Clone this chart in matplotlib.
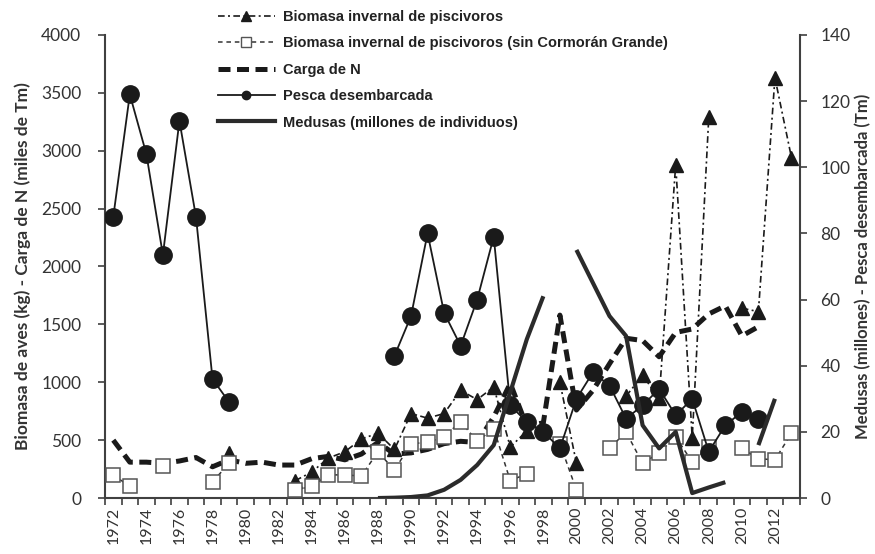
import numpy as np
import matplotlib
matplotlib.use("Agg")
import matplotlib.pyplot as plt
from matplotlib.lines import Line2D

nan = np.nan
years = np.arange(1972, 2014)

# Biomasa invernal de piscívoros (kg)
biomasa = [nan, nan, nan, nan, nan, nan, nan, 390, nan, nan,
           nan, 150, 225, 345, 400, 510, 560, 420, 730, 690,
           730, 930, 850, 960, 440, 580, nan, 1000, 300, nan,
           nan, 880, 1060, 860, 2880, 520, 3290, nan, 1640, 1610,
           3630, 2940]

# Biomasa invernal de piscívoros sin Cormorán Grande (kg)
biomasa_sin_cg = [200, 100, nan, 275, nan, nan, 140, 300, nan, nan,
                  nan, 70, 100, 200, 200, 190, 400, 240, 470, 480,
                  530, 660, 490, 600, 150, 210, nan, 470, 70, nan,
                  430, 570, 300, 390, 530, 310, 440, nan, 430, 340,
                  330, 560]

# Carga de N (miles de Tm)
carga_n = [500, 310, 310, 300, 320, 350, 270, 330, 300, 310,
           285, 285, 340, 360, 330, 380, 480, 380, 390, 420,
           470, 490, 480, 700, 990, 620, 650, 1580, 760, 930,
           1160, 1380, 1360, 1220, 1430, 1460, 1590, 1660, 1400, 1480,
           nan, nan]

# Pesca desembarcada (Tm)
pesca = [85, 122, 104, 73.5, 114, 85, 36, 29, nan, nan,
         nan, nan, nan, nan, nan, nan, nan, 43, 55, 80,
         56, 46, 60, 79, 28, 23, 20, 15, 30, 38,
         34, 24, 28, 33, 25, 30, 14, 22, 26, 24,
         nan, nan]

# Medusas (millones de individuos)
medusas = [nan, nan, nan, nan, nan, nan, nan, nan, nan, nan,
           nan, nan, nan, nan, nan, nan, 0, 0.1, 0.3, 0.8,
           2.5, 5.5, 10, 16, 32, 48, 61, nan, 75, 65,
           55, 49, 22, 15, 20, 1.5, 3.2, 4.8, nan, 16,
           30, nan]

left_ticks = np.arange(0, 4001, 500)
right_ticks = np.arange(0, 141, 20)
year_labels = np.arange(1972, 2013, 2)

labels = ["Biomasa invernal de piscivoros",
          "Biomasa invernal de piscivoros (sin Cormorán Grande)",
          "Carga de N",
          "Pesca desembarcada",
          "Medusas (millones de individuos)"]

ink = "#1a1a1a"
axis_col = "#404040"
text_col = "#333333"
tick_font = "Lato"

fig = plt.figure(figsize=(8.75, 5.54), dpi=100)
ax = fig.add_axes([0.12, 0.101, 0.794, 0.836])
ax2 = ax.twinx()

# left axis series
l_bio, = ax.plot(years, biomasa, color=ink, lw=1.2, dashes=(4, 2, 1.2, 2),
                 marker="^", ms=10, mfc=ink, mec=ink, zorder=3)
l_sin, = ax.plot(years, biomasa_sin_cg, color="#333333", lw=1.1, dashes=(3, 2.5),
                 marker="s", ms=10.5, mfc="white", mec="#555555", mew=1.1, zorder=3)
l_n, = ax.plot(years, carga_n, color=ink, lw=3.6, dashes=(2.4, 1.3),
               solid_capstyle="butt", dash_capstyle="butt", zorder=2)

# right axis series
l_pes, = ax2.plot(years, pesca, color=ink, lw=1.3, marker="o", ms=12.5,
                  mfc=ink, mec=ink, zorder=3)
l_med, = ax2.plot(years, medusas, color="#2b2b2b", lw=3.0,
                  solid_capstyle="butt", zorder=4)

ax.set_xlim(1971.5, 2013.5)
ax.set_ylim(0, 4000)
ax2.set_ylim(0, 140)

for a in (ax, ax2):
    a.spines["top"].set_visible(False)
    for s in ("left", "right", "bottom"):
        a.spines[s].set_color(axis_col)
        a.spines[s].set_linewidth(1.5)
    a.set_facecolor("none")
ax2.spines["left"].set_visible(False)
ax2.spines["bottom"].set_visible(False)
ax.spines["right"].set_visible(False)

ax.set_yticks(left_ticks)
ax.set_yticklabels([str(v) for v in left_ticks], fontfamily=tick_font,
                   fontsize=12.5, color=text_col)
ax2.set_yticks(right_ticks)
ax2.set_yticklabels([str(v) for v in right_ticks], fontfamily=tick_font,
                    fontsize=12.5, color=text_col)

ax.set_xticks(year_labels)
ax.set_xticklabels([str(y) for y in year_labels], rotation=90,
                   fontfamily=tick_font, fontsize=11.5, color=text_col)
ax.set_xticks(np.arange(1971.5, 2014, 1.0), minor=True)
ax.tick_params(axis="x", which="major", length=0, pad=6)
ax.tick_params(axis="x", which="minor", length=5, width=1.2, color=axis_col,
               direction="out")
ax.tick_params(axis="y", length=5, width=1.2, color=axis_col, direction="out", pad=12)
ax2.tick_params(axis="y", length=5, width=1.2, color=axis_col, direction="out", pad=10)

ax.set_ylabel("Biomasa de aves (kg) - Carga de N (miles de Tm)",
              fontfamily=tick_font, fontweight="bold", fontsize=12.5,
              color=text_col, labelpad=7)
ax2.set_ylabel("Medusas (millones) - Pesca desembarcada (Tm)",
               fontfamily=tick_font, fontweight="bold", fontsize=12,
               color=text_col, labelpad=3)

handles = [
    Line2D([], [], color=ink, lw=1.2, dashes=(4, 2, 1.2, 2), marker="^",
           ms=7, mfc=ink, mec=ink),
    Line2D([], [], color="#333333", lw=1.1, dashes=(3, 2.5), marker="s",
           ms=7, mfc="white", mec="#555555", mew=1.0),
    Line2D([], [], color=ink, lw=3.6, dashes=(2.4, 1.3)),
    Line2D([], [], color=ink, lw=1.3, marker="o", ms=6, mfc=ink, mec=ink),
    Line2D([], [], color="#2b2b2b", lw=3.0),
]
leg = fig.legend(handles, labels, loc="upper left",
                 bbox_to_anchor=(218 / 875, 1 - 10 / 554),
                 frameon=False, handlelength=3.9, handletextpad=0.55,
                 labelspacing=0.85, borderaxespad=0, borderpad=0,
                 prop={"family": "Liberation Sans", "weight": "bold", "size": 10.5})
for t in leg.get_texts():
    t.set_color("#222222")

fig.savefig("out.png", dpi=100)
